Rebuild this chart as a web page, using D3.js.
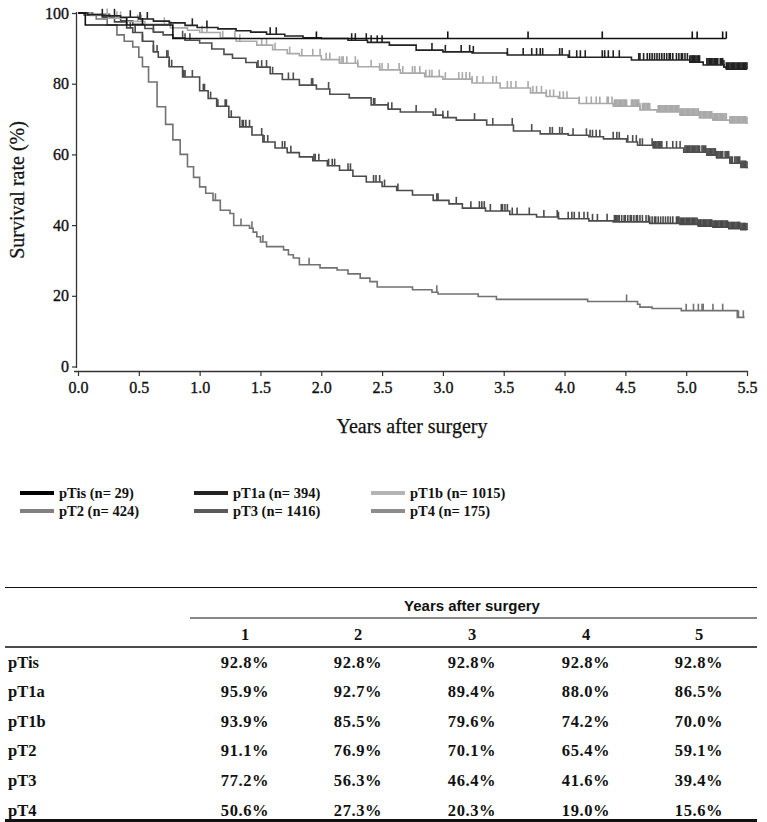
<!DOCTYPE html>
<html><head><meta charset="utf-8">
<script src="https://cdn.jsdelivr.net/npm/d3@7"></script>
<style>
html,body{margin:0;padding:0;background:#fff;}
svg{display:block;}
</style>
</head><body>
<svg id="c" width="767" height="822"></svg>
<script>
// ---------- DATA ----------
const groups = ["pTis","pT1a","pT1b","pT2","pT3","pT4"];
const groupN = [29, 394, 1015, 424, 1416, 175];
const xTicks = [0,0.5,1,1.5,2,2.5,3,3.5,4,4.5,5,5.5];
const yTicks = [0,20,40,60,80,100];

const pTisCurve = [[0,100],[0.06,96.6],[0.78,92.8],[5.33,92.8]];
const pT1aCurve = [[0,100],[0.08,99.5],[0.2,99.2],[0.35,98.8],[0.5,98.3],[0.62,97.7],[0.75,97.2],[0.88,96.5],[0.98,95.9],[1.15,95.5],[1.3,95.0],[1.42,94.6],[1.55,94.0],[1.7,93.5],[1.85,93.0],[2.0,92.8],[2.22,92.3],[2.38,91.7],[2.56,90.9],[2.78,89.5],[3.0,89.0],[3.24,88.7],[3.53,88.1],[4.03,87.5],[4.55,86.7],[5.03,86.1],[5.14,85.3],[5.31,84.7],[5.33,84.1],[5.5,84.1]];
const pT1bCurve = [[0,100],[0.1,99.3],[0.25,98.5],[0.4,97.6],[0.55,96.8],[0.76,95.8],[0.9,95.1],[1.0,94.5],[1.17,93.0],[1.3,92.0],[1.47,90.9],[1.6,89.6],[1.72,88.5],[1.82,87.9],[2.0,86.8],[2.15,85.8],[2.3,84.8],[2.48,83.9],[2.65,83.0],[2.85,82.0],[3.0,81.3],[3.24,80.2],[3.47,78.8],[3.72,77.4],[3.85,76.4],[3.95,75.9],[4.12,74.4],[4.4,73.6],[4.62,72.6],[4.76,72.0],[4.95,71.1],[5.11,70.3],[5.22,69.7],[5.36,68.9],[5.5,68.7]];
const pT2Curve = [[0,100],[0.12,99.6],[0.26,98.5],[0.35,97.8],[0.45,96.8],[0.55,95.6],[0.62,94.6],[0.7,93.8],[0.78,93.0],[0.88,92.3],[1.0,91.5],[1.1,89.8],[1.2,88.3],[1.27,87.2],[1.38,86.0],[1.47,84.7],[1.58,82.8],[1.68,81.2],[1.82,79.6],[1.96,78.5],[2.07,77.0],[2.23,76.0],[2.41,74.0],[2.55,72.8],[2.65,72.0],[2.92,71.1],[3.0,70.4],[3.11,69.7],[3.36,68.3],[3.58,66.6],[3.8,65.8],[4.03,65.4],[4.2,65.0],[4.32,64.4],[4.51,63.5],[4.6,62.6],[4.73,61.8],[4.98,60.6],[5.17,59.8],[5.25,59.0],[5.36,57.5],[5.45,56.3],[5.5,56.1]];
const pT3Curve = [[0,100],[0.1,99.5],[0.2,98.8],[0.3,97.5],[0.4,95.8],[0.45,94.5],[0.53,92.0],[0.62,89.0],[0.66,87.5],[0.75,84.8],[0.86,81.9],[1.0,78.0],[1.07,75.8],[1.14,73.6],[1.24,70.5],[1.33,67.8],[1.43,65.5],[1.52,63.5],[1.62,61.8],[1.72,60.5],[1.82,59.3],[1.93,58.2],[2.05,56.8],[2.15,55.5],[2.26,53.8],[2.37,52.2],[2.5,50.9],[2.62,49.8],[2.75,48.5],[2.92,47.0],[3.05,46.0],[3.16,44.8],[3.35,44.0],[3.55,43.0],[3.77,42.3],[3.95,41.8],[4.2,41.2],[4.4,40.9],[4.7,40.5],[4.95,40.2],[5.1,39.7],[5.22,39.4],[5.35,39.0],[5.45,38.7],[5.5,38.6]];
const pT4Curve = [[0,100],[0.05,99.4],[0.15,98.3],[0.24,96.6],[0.32,93.8],[0.38,92.0],[0.45,90.4],[0.5,87.5],[0.53,84.8],[0.58,80.5],[0.65,73.5],[0.72,68.5],[0.78,64.1],[0.84,60.0],[0.9,56.5],[0.95,53.5],[1.0,50.8],[1.05,49.0],[1.11,47.0],[1.17,44.2],[1.25,43.3],[1.28,39.9],[1.41,39.1],[1.44,38.0],[1.47,36.7],[1.5,35.2],[1.55,33.9],[1.69,33.0],[1.73,31.6],[1.77,30.7],[1.82,28.8],[1.99,27.9],[2.13,27.3],[2.22,26.2],[2.32,25.0],[2.4,24.0],[2.46,22.5],[2.75,21.7],[2.91,21.0],[2.96,20.5],[3.29,19.8],[3.44,19.0],[4.19,18.4],[4.6,17.6],[4.62,16.8],[4.72,16.4],[4.96,15.8],[5.42,13.9],[5.48,13.9]];

const pTisCensor = [0.4,0.53,1.96,3.04,3.70,4.31,5.05,5.09,5.30,5.33];
const pT1aCensor = [0.20,0.30,0.43,0.51,0.57,0.94,1.06,1.58,1.63,2.25,2.28,2.37,2.41,2.46,2.50,2.91,3.02,3.15,3.22,3.25,3.53,3.66,3.73,3.77,3.80,3.82,3.96,3.98,4.04,4.10,4.13,4.17,4.31,4.33,4.36,4.40,4.45,
 4.61,4.62,4.65,4.68,4.70,4.72,4.74,4.76,4.78,4.80,4.82,4.84,4.86,4.87,4.89,4.92,4.94,4.96,4.97,4.99,5.01,5.03,5.04,5.05,5.06,5.07,5.08,5.09,5.10,5.11,
 5.17,5.18,5.19,5.20,5.21,5.22,5.23,5.24,5.25,5.26,5.28,5.29,5.30,5.31,5.33,5.34,5.35,5.36,5.37,5.38,5.39,5.40,5.41,5.42,5.43,5.44,5.45,5.46,5.47,5.48,5.49,5.50];
const pT1bCensor = [0.24,0.32,0.35,0.49,0.52,0.71,0.76,1.02,1.06,1.19,1.29,1.33,1.51,1.55,1.62,1.74,1.84,1.93,1.99,2.04,2.07,2.15,2.17,2.18,2.21,2.28,2.30,2.41,2.48,2.50,2.55,2.64,2.67,2.75,2.77,2.81,2.86,2.89,2.91,2.97,3.02,3.13,3.16,3.19,3.22,3.24,3.28,3.33,3.41,3.44,3.53,3.56,3.60,3.70,3.74,3.77,3.81,3.85,3.88,3.91,3.96,3.99,4.02,4.12,4.18,4.22,4.26,4.29,4.35,4.36,4.39,
 4.41,4.42,4.43,4.44,4.45,4.46,4.47,4.48,4.49,4.50,4.51,4.55,4.56,4.57,4.58,4.59,4.60,4.61,4.62,4.64,4.65,4.66,4.67,4.68,4.69,4.70,
 4.77,4.78,4.79,4.80,4.81,4.82,4.83,4.84,4.85,4.86,4.87,4.88,4.89,4.90,4.91,4.92,4.93,4.94,4.95,4.96,4.97,4.98,4.99,5.00,5.01,5.02,5.03,5.04,5.05,5.06,5.07,5.08,5.09,5.10,5.11,5.12,5.13,5.14,5.15,5.16,5.17,5.18,5.19,5.20,5.21,5.22,5.23,5.24,5.25,5.26,5.27,5.28,5.29,5.30,5.31,5.32,5.33,
 5.36,5.37,5.38,5.39,5.40,5.41,5.42,5.43,5.44,5.45,5.46,5.47,5.48,5.49,5.50];
const pT2Censor = [0.62,0.86,0.88,0.92,1.48,1.51,1.55,1.60,1.73,1.77,1.92,1.93,2.06,2.43,2.44,2.55,2.58,2.78,2.94,3.00,3.04,3.26,3.41,3.57,3.73,3.88,3.90,3.96,3.98,4.07,4.18,4.21,4.23,4.26,4.29,4.40,4.43,4.45,4.52,4.56,4.59,4.62,4.64,
 4.72,4.73,4.74,4.75,4.76,4.77,4.78,4.79,4.80,4.84,4.89,4.92,4.95,4.99,5.00,5.01,5.02,5.03,5.04,5.05,5.06,5.07,5.08,5.09,5.10,5.11,5.13,5.14,5.15,5.16,5.17,5.18,5.19,5.20,5.21,5.22,5.23,5.24,5.25,5.26,5.27,5.28,5.29,5.30,5.32,5.33,5.34,5.35,5.36,5.37,5.38,5.40,5.41,5.42,5.43,5.44,5.45,5.46,5.47,5.48,5.49,5.50];
const pT3Censor = [0.43,0.47,0.53,0.62,0.65,0.73,0.74,0.75,0.77,0.87,0.88,0.94,1.03,1.04,1.09,1.15,1.21,1.22,1.26,1.35,1.36,1.38,1.41,1.51,1.53,1.56,1.68,1.70,1.75,1.94,1.95,1.98,2.06,2.09,2.11,2.22,2.24,2.43,2.45,2.48,2.52,2.63,2.95,2.96,3.11,3.23,3.30,3.32,3.34,3.39,3.48,3.49,3.51,3.53,3.57,3.61,3.71,3.83,3.94,3.95,4.03,4.06,4.08,4.12,4.16,4.19,4.23,4.27,4.35,
 4.41,4.42,4.43,4.44,4.45,4.47,4.49,4.50,4.52,4.54,4.55,4.57,4.59,4.60,4.62,4.64,4.67,4.69,4.70,4.72,4.74,4.75,4.77,4.79,4.81,4.83,4.85,4.87,4.89,
 4.92,4.93,4.94,4.95,4.96,4.97,4.98,4.99,5.00,5.01,5.02,5.03,5.04,5.05,5.06,5.07,5.08,5.09,5.10,5.11,5.12,5.13,5.14,5.15,5.16,5.17,5.18,5.19,5.20,5.21,5.22,5.23,5.24,5.25,5.26,5.27,5.28,5.29,5.30,5.31,5.32,5.33,5.34,5.35,5.36,5.37,5.38,5.39,5.40,5.41,5.42,5.43,5.44,5.45,5.46,5.47,5.48,5.49,5.50];
const pT4Censor = [1.13,1.34,1.43,1.52,1.90,2.95,4.51,5.00,5.06,5.10,5.13,5.14,5.22,5.30,5.43,5.47];

// Table of survival by year
const tableYears = ["1","2","3","4","5"];
const pTisRates = ["92.8%","92.8%","92.8%","92.8%","92.8%"];
const pT1aRates = ["95.9%","92.7%","89.4%","88.0%","86.5%"];
const pT1bRates = ["93.9%","85.5%","79.6%","74.2%","70.0%"];
const pT2Rates  = ["91.1%","76.9%","70.1%","65.4%","59.1%"];
const pT3Rates  = ["77.2%","56.3%","46.4%","41.6%","39.4%"];
const pT4Rates  = ["50.6%","27.3%","20.3%","19.0%","15.6%"];

// ---------- STYLE ----------
const curveColors  = ["#111111","#222222","#a9a9a9","#4e4e4e","#4a4a4a","#727272"];
const legendColors = ["#000000","#222222","#b4b4b4","#808080","#5a5a5a","#8c8c8c"];

const svg = d3.select("#c");
const x = d3.scaleLinear().domain([0,5.5]).range([78,747]);
const y = d3.scaleLinear().domain([0,100]).range([366.5,13]);

const serif = "'Liberation Serif','Times New Roman',serif";
const sans = "'Liberation Sans',Arial,sans-serif";

// Axes
const xAxis = d3.axisBottom(x).tickValues(xTicks).tickFormat(d3.format(".1f")).tickSize(5).tickSizeOuter(0).tickPadding(6);
const gx = svg.append("g").attr("transform","translate(0,371)").call(xAxis);
gx.select(".domain").attr("d","M74,0.5H748").attr("stroke","#333").attr("stroke-width",1.3);
gx.selectAll(".tick line").attr("stroke","#333").attr("stroke-width",1.2);
gx.selectAll(".tick text").attr("font-family",serif).attr("font-size",16).attr("fill","#111").attr("stroke","#111").attr("stroke-width",0.35);

const yAxis = d3.axisLeft(y).tickValues(yTicks).tickSize(4).tickSizeOuter(0).tickPadding(3);
const gy = svg.append("g").attr("transform","translate(76,0)").call(yAxis);
gy.select(".domain").attr("d","M0.5,12V368").attr("stroke","#333").attr("stroke-width",1.3);
gy.selectAll(".tick line").attr("stroke","#333").attr("stroke-width",1.2);
gy.selectAll(".tick text").attr("font-family",serif).attr("font-size",16).attr("fill","#111").attr("stroke","#111").attr("stroke-width",0.35);

svg.append("text").attr("x",412).attr("y",433).attr("text-anchor","middle")
  .attr("font-family",serif).attr("font-size",20).attr("fill","#111").attr("stroke","#111").attr("stroke-width",0.25)
  .text("Years after surgery");
svg.append("text").attr("transform","translate(24,190) rotate(-90)").attr("text-anchor","middle")
  .attr("font-family",serif).attr("font-size",20).attr("fill","#111").attr("stroke","#111").attr("stroke-width",0.25)
  .text("Survival rate (%)");

// Curves
const curves = [pTisCurve,pT1aCurve,pT1bCurve,pT2Curve,pT3Curve,pT4Curve];
const censors = [pTisCensor,pT1aCensor,pT1bCensor,pT2Censor,pT3Censor,pT4Censor];
const line = d3.line().x(d=>x(d[0])).y(d=>y(d[1])).curve(d3.curveStepAfter);
const bis = d3.bisector(d=>d[0]).right;
const order = [5,4,3,2,1,0];
order.forEach(i=>{
  const g = svg.append("g");
  g.append("path").attr("d",line(curves[i])).attr("fill","none")
    .attr("stroke",curveColors[i]).attr("stroke-width",1.6);
  g.selectAll("line").data(censors[i]).join("line")
    .attr("x1",t=>x(t)).attr("x2",t=>x(t))
    .attr("y1",t=>y(curves[i][Math.max(0,bis(curves[i],t)-1)][1]))
    .attr("y2",t=>y(curves[i][Math.max(0,bis(curves[i],t)-1)][1])-7)
    .attr("stroke",curveColors[i]).attr("stroke-width",1.6);
});

// Legend
const legX = [20,194,371];
const legY = [493,511];
groups.forEach((gname,i)=>{
  const cx = legX[i%3], cy = legY[Math.floor(i/3)];
  svg.append("line").attr("x1",cx).attr("x2",cx+34).attr("y1",cy).attr("y2",cy)
    .attr("stroke",legendColors[i]).attr("stroke-width",4);
  svg.append("text").attr("x",cx+39).attr("y",cy+5)
    .attr("font-family",serif).attr("font-weight","bold").attr("font-size",14.5).attr("fill","#111")
    .text(`${gname} (n= ${groupN[i]})`);
});

// Table
const colX = [245,358,472,586,699];
const rowBase = [668,697,727,756,786,816];
const rates = [pTisRates,pT1aRates,pT1bRates,pT2Rates,pT3Rates,pT4Rates];
const tbl = svg.append("g");
tbl.append("line").attr("x1",5).attr("x2",757).attr("y1",587.5).attr("y2",587.5).attr("stroke","#111").attr("stroke-width",1.2);
tbl.append("line").attr("x1",190).attr("x2",757).attr("y1",618).attr("y2",618).attr("stroke","#111").attr("stroke-width",1.2);
tbl.append("line").attr("x1",5).attr("x2",757).attr("y1",647).attr("y2",647).attr("stroke","#111").attr("stroke-width",1.4);
tbl.append("line").attr("x1",5).attr("x2",757).attr("y1",820.5).attr("y2",820.5).attr("stroke","#111").attr("stroke-width",3);
tbl.append("text").attr("x",472).attr("y",611).attr("text-anchor","middle")
  .attr("font-family",sans).attr("font-weight","bold").attr("font-size",15).attr("fill","#111")
  .text("Years after surgery");
tableYears.forEach((yr,j)=>{
  tbl.append("text").attr("x",colX[j]).attr("y",640).attr("text-anchor","middle")
    .attr("font-family",serif).attr("font-weight","bold").attr("font-size",16.5).attr("fill","#111").text(yr);
});
groups.forEach((gname,i)=>{
  tbl.append("text").attr("x",8).attr("y",rowBase[i])
    .attr("font-family",serif).attr("font-weight","bold").attr("font-size",16.5).attr("fill","#111").text(gname);
  rates[i].forEach((v,j)=>{
    tbl.append("text").attr("x",colX[j]).attr("y",rowBase[i]).attr("text-anchor","middle")
      .attr("font-family",serif).attr("font-weight","bold").attr("font-size",16.5).attr("letter-spacing",0.6).attr("fill","#111").text(v);
  });
});
</script>
</body></html>
